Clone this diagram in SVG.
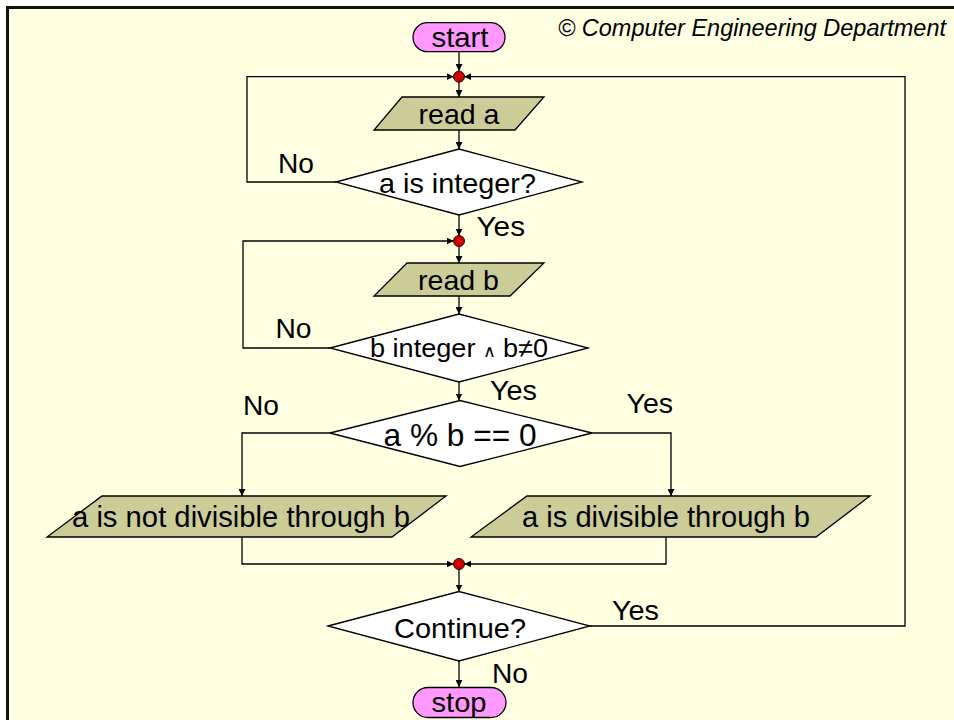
<svg xmlns="http://www.w3.org/2000/svg" width="954" height="720" viewBox="0 0 954 720">
  <style>
    .lbl { font-family: "Liberation Sans", Arial, sans-serif; fill: #000; font-size: 28.5px; }
    .term { fill: #FF99FF; stroke: #000; stroke-width: 1.3; }
    .io { fill: #CCCC99; stroke: #000; stroke-width: 1.3; }
    .dec { fill: #FFFFFF; stroke: #000; stroke-width: 1.3; }
    .dot { fill: #CC0000; stroke: #330000; stroke-width: 1; }
    .edge { fill: none; stroke: #000; stroke-width: 1.3; marker-end: url(#arrow); }
  </style>
  <defs>
    <marker id="arrow" viewBox="0 0 8 8" refX="8" refY="4" markerWidth="7" markerHeight="7" markerUnits="userSpaceOnUse" orient="auto">
      <path d="M0,0 L8,4 L0,8 z" fill="#000"/>
    </marker>
  </defs>

  <!-- page frame -->
  <rect x="0" y="0" width="954" height="720" fill="#FFFFFF"/>
  <rect x="7.5" y="7.5" width="960" height="730" fill="#FFFFE1" stroke="#111" stroke-width="3"/>

  <text class="lbl" x="558" y="36" style="font-size:23.5px" font-style="italic" textLength="388" lengthAdjust="spacingAndGlyphs">© Computer Engineering Department</text>

  <!-- connectors -->
  <g id="connectors">
    <path class="edge" d="M459,52 V71"/>
    <path class="edge" d="M336,182 H247 V76.7 H453.7"/>
    <path class="edge" d="M590,626 H905 V76.7 H464.3"/>
    <path class="edge" d="M459,82 V97"/>
    <path class="edge" d="M459,130 V149"/>
    <path class="edge" d="M459,215 V235.7"/>
    <path class="edge" d="M330,348 H243 V241 H453.7"/>
    <path class="edge" d="M459,246.3 V263"/>
    <path class="edge" d="M459,296 V314"/>
    <path class="edge" d="M459,382 V400.5"/>
    <path class="edge" d="M330,433 H242 V496"/>
    <path class="edge" d="M592,433 H671 V496"/>
    <path class="edge" d="M242,537 V564 H453.7"/>
    <path class="edge" d="M666,537 V564 H464.3"/>
    <path class="edge" d="M459,569.3 V591.5"/>
    <path class="edge" d="M459,661 V687"/>
  </g>

  <!-- junction points -->
  <g id="junctions">
    <circle class="dot" cx="459" cy="76.7" r="5.5"/>
    <circle class="dot" cx="459" cy="241" r="5.5"/>
    <circle class="dot" cx="459" cy="564" r="5.5"/>
  </g>

  <g id="start">
    <rect class="term" x="413" y="22.7" width="92" height="29" rx="14.5"/>
    <text class="lbl" x="431.5" y="47" textLength="57" lengthAdjust="spacingAndGlyphs">start</text>
  </g>

  <g id="read-a">
    <polygon class="io" points="402,97 544,97 515,130 374,130"/>
    <text class="lbl" x="418.5" y="124" textLength="81" lengthAdjust="spacingAndGlyphs">read a</text>
  </g>

  <g id="check-a">
    <polygon class="dec" points="336,182 459,149 582,182 459,215"/>
    <text class="lbl" x="379" y="192.5" textLength="157" lengthAdjust="spacingAndGlyphs">a is integer?</text>
    <text class="lbl" x="278" y="173" textLength="36" lengthAdjust="spacingAndGlyphs">No</text>
    <text class="lbl" x="476.5" y="236" textLength="48.5" lengthAdjust="spacingAndGlyphs">Yes</text>
  </g>

  <g id="read-b">
    <polygon class="io" points="407,263 544,263 510,296 374,296"/>
    <text class="lbl" x="418" y="290" textLength="81" lengthAdjust="spacingAndGlyphs">read b</text>
  </g>

  <g id="check-b">
    <polygon class="dec" points="330,348 459,314 588,348 459,382"/>
    <text class="lbl" x="370" y="357" style="font-size:26px" textLength="178" lengthAdjust="spacingAndGlyphs">b integer <tspan style="font-size:17px">∧</tspan> b≠0</text>
    <text class="lbl" x="275.5" y="338" textLength="36" lengthAdjust="spacingAndGlyphs">No</text>
    <text class="lbl" x="490" y="400" textLength="47" lengthAdjust="spacingAndGlyphs">Yes</text>
  </g>

  <g id="check-divisible">
    <polygon class="dec" points="330,433 460,400.5 592,433 460,466.5"/>
    <text class="lbl" x="383.5" y="445.5" style="font-size:31.5px" textLength="153" lengthAdjust="spacingAndGlyphs">a % b == 0</text>
    <text class="lbl" x="243" y="415" textLength="36" lengthAdjust="spacingAndGlyphs">No</text>
    <text class="lbl" x="626.5" y="412.5" textLength="46.5" lengthAdjust="spacingAndGlyphs">Yes</text>
  </g>

  <g id="not-divisible">
    <polygon class="io" points="102,496 446,496 392,537 47,537"/>
    <text class="lbl" x="72" y="527" style="font-size:29px" textLength="338" lengthAdjust="spacingAndGlyphs">a is not divisible through b</text>
  </g>

  <g id="divisible">
    <polygon class="io" points="527,496 870,496 816,537 471,537"/>
    <text class="lbl" x="522" y="527" style="font-size:29px" textLength="288" lengthAdjust="spacingAndGlyphs">a is divisible through b</text>
  </g>

  <g id="continue">
    <polygon class="dec" points="328,626 459,591.5 590,626 459,661"/>
    <text class="lbl" x="394" y="638" textLength="132" lengthAdjust="spacingAndGlyphs">Continue?</text>
    <text class="lbl" x="612" y="620" textLength="47" lengthAdjust="spacingAndGlyphs">Yes</text>
    <text class="lbl" x="492" y="683" textLength="36" lengthAdjust="spacingAndGlyphs">No</text>
  </g>

  <g id="stop">
    <rect class="term" x="413" y="687.5" width="93" height="30" rx="15"/>
    <text class="lbl" x="431.5" y="711.5" textLength="55" lengthAdjust="spacingAndGlyphs">stop</text>
  </g>
</svg>
